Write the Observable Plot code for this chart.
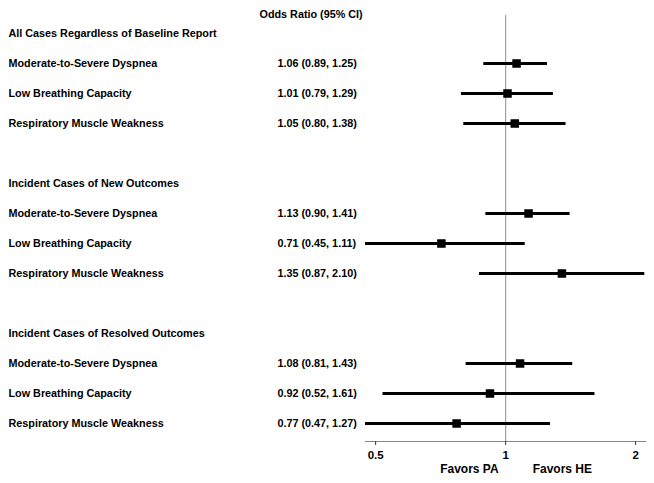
<!DOCTYPE html>
<html>
<head>
<meta charset="utf-8">
<script src="https://cdn.jsdelivr.net/npm/d3@7"></script>
<script src="https://cdn.jsdelivr.net/npm/@observablehq/plot@0.6"></script>
<style>
  html, body { margin: 0; padding: 0; background: #fff; }
  svg { display: block; }
</style>
</head>
<body>
<div id="chart"></div>
<script>
// ---- data ----
const groups = [
  "All Cases Regardless of Baseline Report",
  "Incident Cases of New Outcomes",
  "Incident Cases of Resolved Outcomes"
];
const outcomes = ["Moderate-to-Severe Dyspnea", "Low Breathing Capacity", "Respiratory Muscle Weakness"];
const oddsRatio = [1.06, 1.01, 1.05, 1.13, 0.71, 1.35, 1.08, 0.92, 0.77];
const ciLow     = [0.89, 0.79, 0.80, 0.90, 0.45, 0.87, 0.81, 0.52, 0.47];
const ciHigh    = [1.25, 1.29, 1.38, 1.41, 1.11, 2.10, 1.43, 1.61, 1.27];
const xTicks = [0.5, 1, 2];
const columnTitle = "Odds Ratio (95% CI)";
const favorLeft = "Favors PA";
const favorRight = "Favors HE";

// ---- build table ----
const headers = groups.map((g, gi) => ({label: g, row: gi * 5}));
const rows = [];
groups.forEach((g, gi) => {
  outcomes.forEach((o, oi) => {
    const k = gi * 3 + oi;
    rows.push({
      label: o,
      row: gi * 5 + 1 + oi,
      or: oddsRatio[k], lo: ciLow[k], hi: ciHigh[k],
      txt: `${oddsRatio[k].toFixed(2)} (${ciLow[k].toFixed(2)}, ${ciHigh[k].toFixed(2)})`
    });
  });
});

const font = "Liberation Sans, Arial, sans-serif";
const fs = 10.8;

const chart = Plot.plot({
  width: 654,
  height: 483,
  marginLeft: 365,
  marginRight: 9,
  marginTop: 15,
  marginBottom: 42,
  style: {fontFamily: font, fontSize: fs + "px", fontWeight: "bold", color: "#000", background: "#fff"},
  x: {type: "log", domain: [0.4737, 2.108], ticks: xTicks, tickFormat: d => String(d)},
  y: {domain: [0, 13], reverse: true, insetTop: 18, insetBottom: 18, axis: null},
  marks: [
    Plot.ruleX([1], {stroke: "#a0a0a0", strokeWidth: 1.2}),
    Plot.frame({anchor: "bottom", stroke: "#888", strokeWidth: 1.2}),
    Plot.axisX({ticks: xTicks, tickFormat: d => String(d), tickSize: 4, tickPadding: 5, stroke: "#333",
      fill: "#000", fontWeight: "bold", fontSize: 11.5, label: null}),
    Plot.ruleY(rows, {y: "row", x1: "lo", x2: "hi", stroke: "#000", strokeWidth: 3, clip: true}),
    Plot.dot(rows, {y: "row", x: "or", symbol: "square", r: 4.8, fill: "#000", stroke: "none"}),
    Plot.text(headers, {y: "row", text: "label", frameAnchor: "left", dx: -357, textAnchor: "start",
      fill: "#000", fontWeight: "bold", fontSize: fs}),
    Plot.text(rows, {y: "row", text: "label", frameAnchor: "left", dx: -357, textAnchor: "start",
      fill: "#000", fontWeight: "bold", fontSize: fs}),
    Plot.text(rows, {y: "row", text: "txt", frameAnchor: "left", dx: -88, textAnchor: "start",
      fill: "#000", fontWeight: "bold", fontSize: fs}),
    Plot.text([columnTitle], {frameAnchor: "top-left", dx: -106, dy: -5, textAnchor: "start",
      fill: "#000", fontWeight: "bold", fontSize: fs}),
    Plot.text([favorLeft], {x: () => 1, frameAnchor: "bottom", dy: 31, textAnchor: "end", dx: -7,
      fill: "#000", fontWeight: "bold", fontSize: 12}),
    Plot.text([favorRight], {x: () => 1, frameAnchor: "bottom", dy: 31, textAnchor: "start", dx: 27,
      fill: "#000", fontWeight: "bold", fontSize: 12})
  ]
});
document.getElementById("chart").appendChild(chart);
</script>
</body>
</html>
